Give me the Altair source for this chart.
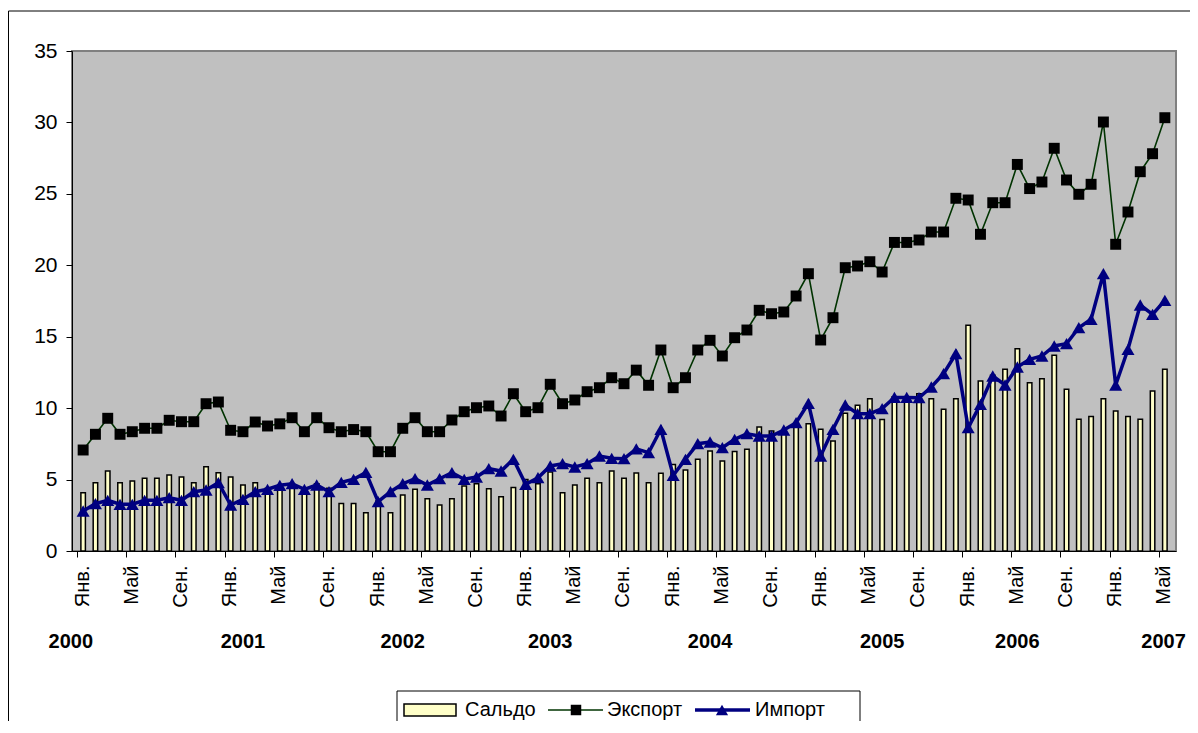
import altair as alt
import pandas as pd

# ---------------- data ----------------
series_names = ["Сальдо", "Экспорт", "Импорт"]
month_names = ["Янв.", "Май", "Сен."]          # labels every 4 months
years = ["2000", "2001", "2002", "2003", "2004", "2005", "2006", "2007"]
year_label_pos = [-1, 13, 26, 38, 51, 65, 76, 87.9]   # month-index position of year captions

export_vals = [
    7.07, 8.17, 9.29, 8.17, 8.35, 8.59, 8.59, 9.15, 9.05, 9.05, 10.31, 10.43,
    8.45, 8.35, 9.03, 8.75, 8.90, 9.33, 8.35, 9.33, 8.63, 8.35, 8.50, 8.35,
    6.95, 6.95, 8.59, 9.33, 8.35, 8.35, 9.17, 9.75, 10.03, 10.15, 9.45, 11.01,
    9.75, 10.03, 11.67, 10.31, 10.57, 11.15, 11.43, 12.13, 11.71, 12.66, 11.60, 14.07,
    11.43, 12.13, 14.07, 14.75, 13.65, 14.93, 15.47, 16.85, 16.61, 16.73, 17.85, 19.41,
    14.77, 16.33, 19.83, 19.95, 20.25, 19.53, 21.60, 21.60, 21.77, 22.33, 22.33, 24.69,
    24.57, 22.17, 24.38, 24.38, 27.06, 25.37, 25.83, 28.19, 25.97, 24.97, 25.67, 30.03,
    21.47, 23.73, 26.55, 27.81, 30.33,
]
import_vals = [
    2.80, 3.31, 3.55, 3.27, 3.27, 3.55, 3.55, 3.73, 3.55, 4.15, 4.27, 4.78,
    3.22, 3.62, 4.15, 4.32, 4.60, 4.71, 4.32, 4.62, 4.15, 4.80, 5.02, 5.50,
    3.45, 4.15, 4.71, 5.06, 4.62, 5.06, 5.48, 5.02, 5.18, 5.76, 5.60, 6.42,
    4.67, 5.13, 5.95, 6.11, 5.88, 6.11, 6.65, 6.49, 6.46, 7.15, 6.88, 8.52,
    5.30, 6.42, 7.51, 7.63, 7.23, 7.82, 8.21, 8.05, 8.05, 8.47, 8.98, 10.34,
    6.65, 8.52, 10.22, 9.61, 9.61, 9.97, 10.75, 10.75, 10.73, 11.48, 12.41, 13.81,
    8.63, 10.27, 12.25, 11.62, 12.88, 13.42, 13.65, 14.35, 14.51, 15.63, 16.22, 19.41,
    11.62, 14.12, 17.22, 16.57, 17.55,
]
saldo_vals = [
    4.08, 4.78, 5.60, 4.78, 4.90, 5.09, 5.09, 5.32, 5.18, 4.78, 5.90, 5.48,
    5.18, 4.62, 4.78, 4.40, 4.30, 4.60, 4.00, 4.70, 4.40, 3.33, 3.33, 2.68,
    3.50, 2.68, 3.92, 4.32, 3.66, 3.22, 3.66, 4.55, 4.71, 4.36, 3.80, 4.45,
    5.00, 4.71, 5.53, 4.08, 4.62, 5.09, 4.78, 5.60, 5.09, 5.46, 4.78, 5.44,
    6.05, 5.67, 6.42, 7.00, 6.30, 6.97, 7.12, 8.68, 8.40, 8.30, 8.95, 8.91,
    8.52, 7.70, 9.64, 10.20, 10.66, 9.20, 10.80, 10.80, 11.00, 10.66, 9.92, 10.66,
    15.80, 11.90, 12.30, 12.72, 14.16, 11.78, 12.06, 13.70, 11.32, 9.22, 9.41, 10.66,
    9.80, 9.41, 9.22, 11.20, 12.72,
]

df = pd.DataFrame({
    "t": list(range(len(export_vals))),
    "saldo": saldo_vals,
    "export": export_vals,
    "import": import_vals,
})
years_df = pd.DataFrame({"year": years, "pos": year_label_pos})

# ---------------- styles ----------------
FONT = "Liberation Sans"
BAR_FILL = "#FFFFC8"
EXP_LINE = "#003300"
IMP_COL = "#000080"

x_scale = alt.Scale(domain=[-0.5, len(export_vals) - 0.5], nice=False, zero=False)
y_scale = alt.Scale(domain=[0, 35], nice=False)

label_expr = (
    f"(datum.value + 0.5) % 12 == 0 ? '{month_names[0]}' : "
    f"(datum.value + 0.5) % 12 == 4 ? '{month_names[1]}' : "
    f"(datum.value + 0.5) % 12 == 8 ? '{month_names[2]}' : ''"
)

x_axis = alt.Axis(
    values=[k - 0.5 for k in range(len(export_vals) + 1)],
    labelExpr=label_expr, labelAngle=270, labelOffset=5, labelPadding=8,
    tickSize=6, labelFontSize=20, labelFont=FONT, labelColor="black",
    labelOverlap=False, labelFlush=False, grid=False, title=None,
    domainColor="black", tickColor="black",
)
y_axis = alt.Axis(
    values=list(range(0, 36, 5)), tickSize=6, labelPadding=9,
    labelFontSize=21, labelFont=FONT, labelColor="black",
    grid=False, title=None, domainColor="black", tickColor="black",
)

X = alt.X("t:Q", scale=x_scale, axis=x_axis)

base = alt.Chart(df)

bars = base.mark_bar(size=4.5, fill=BAR_FILL, stroke="black", strokeWidth=1.5).encode(
    x=X, y=alt.Y("saldo:Q", scale=y_scale, axis=y_axis)
)
exp_line = base.mark_line(color=EXP_LINE, strokeWidth=1.6).encode(
    x=alt.X("t:Q", scale=x_scale), y=alt.Y("export:Q", scale=y_scale)
)
exp_pts = base.mark_point(shape="square", filled=True, color="black", opacity=1, size=120).encode(
    x=alt.X("t:Q", scale=x_scale), y=alt.Y("export:Q", scale=y_scale)
)
imp_line = base.mark_line(color=IMP_COL, strokeWidth=3.5).encode(
    x=alt.X("t:Q", scale=x_scale), y=alt.Y("import:Q", scale=y_scale)
)
imp_pts = base.mark_point(shape="triangle-up", filled=True, color=IMP_COL, opacity=1, size=170).encode(
    x=alt.X("t:Q", scale=x_scale), y=alt.Y("import:Q", scale=y_scale)
)

year_text = alt.Chart(years_df).mark_text(
    font=FONT, fontSize=20, fontWeight="bold", color="black", baseline="middle"
).encode(
    x=alt.X("pos:Q", scale=x_scale), y=alt.value(591), text="year:N"
)

# ---------------- legend (drawn) ----------------
one = pd.DataFrame({"k": [0]})
lg = alt.Chart(one)
LY = 659
legend_box = lg.mark_rect(fill="white", stroke="black", strokeWidth=1).encode(
    x=alt.value(325), x2=alt.value(788), y=alt.value(640), y2=alt.value(672)
)
leg_saldo = lg.mark_rect(fill=BAR_FILL, stroke="black", strokeWidth=1.5).encode(
    x=alt.value(332), x2=alt.value(384), y=alt.value(653), y2=alt.value(665)
)
leg_t1 = lg.mark_text(text=series_names[0], font=FONT, fontSize=20, align="left", baseline="middle").encode(
    x=alt.value(393), y=alt.value(LY)
)
leg_exp_line = lg.mark_rule(color=EXP_LINE, strokeWidth=1.6).encode(
    x=alt.value(476), x2=alt.value(531), y=alt.value(LY)
)
leg_exp_pt = lg.mark_point(shape="square", filled=True, color="black", opacity=1, size=110).encode(
    x=alt.value(504), y=alt.value(LY)
)
leg_t2 = lg.mark_text(text=series_names[1], font=FONT, fontSize=20, align="left", baseline="middle").encode(
    x=alt.value(535), y=alt.value(LY)
)
leg_imp_line = lg.mark_rule(color=IMP_COL, strokeWidth=3.5).encode(
    x=alt.value(623), x2=alt.value(678), y=alt.value(LY)
)
leg_imp_pt = lg.mark_point(shape="triangle-up", filled=True, color=IMP_COL, opacity=1, size=150).encode(
    x=alt.value(650), y=alt.value(LY)
)
leg_t3 = lg.mark_text(text=series_names[2], font=FONT, fontSize=20, align="left", baseline="middle").encode(
    x=alt.value(683), y=alt.value(LY)
)

# outer chart frame (left and top edges)
frame_left = lg.mark_rule(color="black", strokeWidth=1).encode(
    x=alt.value(-63.5), y=alt.value(-40), y2=alt.value(680)
)
frame_top = lg.mark_rule(color="black", strokeWidth=1).encode(
    x=alt.value(-63.5), x2=alt.value(1130), y=alt.value(-40)
)

chart = alt.layer(
    bars, exp_line, exp_pts, imp_line, imp_pts, year_text,
    legend_box, leg_saldo, leg_t1, leg_exp_line, leg_exp_pt, leg_t2,
    leg_imp_line, leg_imp_pt, leg_t3, frame_left, frame_top,
).properties(
    width=1104, height=500,
    padding={"left": 64, "top": 43, "right": 14, "bottom": 170},
    autosize=alt.AutoSizeParams(type="none"),
    background="white",
).configure_view(
    fill="#C0C0C0", stroke="#808080", strokeWidth=2
)

chart.save("out.html", embed_options={"renderer": "svg", "actions": False})
